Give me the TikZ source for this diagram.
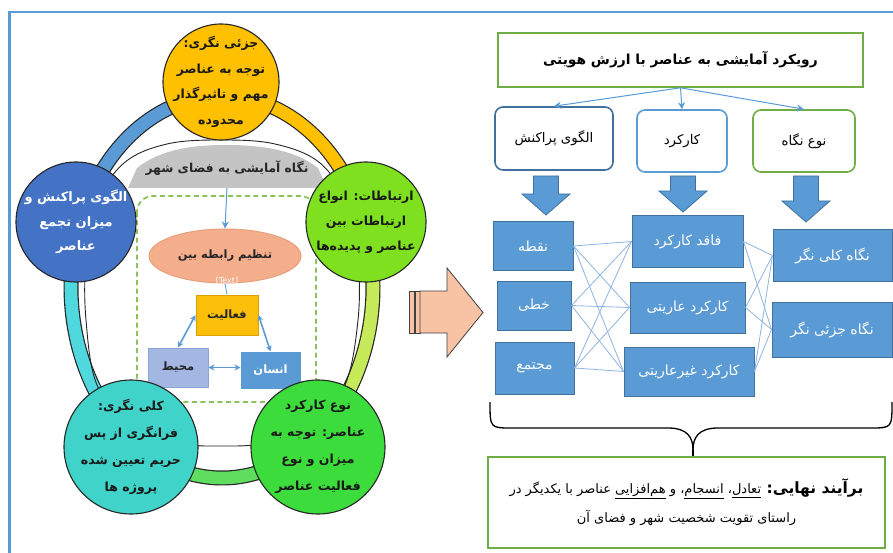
\documentclass[tikz,border=0pt]{standalone}
\usepackage{fontspec}
\setmainfont{DejaVu Sans}
\newfontfamily\fa[Script=Arabic]{DejaVu Sans}
\TeXXeTstate=1
\usetikzlibrary{arrows.meta,calc,shapes.geometric}
\newcommand\rl[1]{\beginR#1\endR}
\definecolor{frameblue}{HTML}{5B9BD5}
\definecolor{ringO}{HTML}{FFC000}
\definecolor{ringL}{HTML}{C6EA5A}
\definecolor{ringG}{HTML}{5EDD5E}
\definecolor{ringT}{HTML}{4FD8DE}
\definecolor{ringB}{HTML}{5B9BD5}
\definecolor{cTop}{HTML}{FFC000}
\definecolor{cLeft}{HTML}{4472C4}
\definecolor{cRight}{HTML}{7EE01E}
\definecolor{cBL}{HTML}{3FD3C9}
\definecolor{cBR}{HTML}{3CDC3C}
\definecolor{bannergray}{HTML}{C4C4C4}
\definecolor{peach}{HTML}{F8C3A4}
\definecolor{peachD}{HTML}{E9A07A}
\definecolor{salmon}{HTML}{F4AE8C}
\definecolor{gold}{HTML}{FBBF0A}
\definecolor{goldD}{HTML}{D9A200}
\definecolor{lav}{HTML}{A4B6E2}
\definecolor{lavD}{HTML}{8EA3D6}
\definecolor{dgreen}{HTML}{8DC15A}
\definecolor{tgreen}{HTML}{70AD47}
\definecolor{bfill}{HTML}{5B9BD5}
\definecolor{bdark}{HTML}{41719C}
\definecolor{lineblue}{HTML}{8DB4E2}
\tikzset{
  circ/.style={circle, draw=black!85, line width=1.1pt, minimum size=#1, inner sep=0pt},
  ctext/.style={align=center, inner sep=0pt, font=\fa\bfseries\fontsize{12.5}{25.5}\selectfont},
  wbox/.style={draw=#1, line width=1.6pt, rounded corners=8pt, fill=white, align=center,
    font=\fa\fontsize{13.3}{15}\selectfont, inner sep=0pt},
  bbox/.style={draw=bdark, line width=1pt, fill=bfill, text=white, align=center,
    font=\fa\fontsize{14}{16}\selectfont, inner sep=0pt},
  thinline/.style={lineblue, line width=0.8pt},
  fanarrow/.style={frameblue, line width=1pt, -{Stealth[length=7pt,width=7pt]}},
  darrow/.style={frameblue, line width=1.6pt, {Stealth[length=6pt,width=6pt]}-{Stealth[length=6pt,width=6pt]}},
  innerbox/.style={line width=1pt, inner sep=0pt, font=\fa\bfseries\fontsize{11.5}{13}\selectfont},
}
\newcommand\mybarrow[3]{%
  \filldraw[fill=bfill, draw=bdark, line width=0.8pt]
    (#1-12.5,#2) -- (#1+12.5,#2) -- (#1+12.5,#3-21) -- (#1+24,#3-21) -- (#1,#3)
    -- (#1-24,#3-21) -- (#1-12.5,#3-21) -- cycle;}
\begin{document}
\begin{tikzpicture}[x=1pt,y=-1pt]
\useasboundingbox (0,0) rectangle (893,553);
\fill[white] (0,0) rectangle (893,553);
% frame
\draw[frameblue, line width=2.5pt] (9.5,553) -- (9.5,12) -- (893,12);

% ---------- ring ----------
\coordinate (rc) at (222,287);
\foreach \a/\b/\c in {270/342.5/ringO, 342.5/410.5/ringL, 50.5/127/ringG, 127/194.8/ringT, 194.8/270/ringB}{
  \draw[black!85, line width=15pt] (rc) ++(\a:151 and 191) arc[start angle=\a, end angle=\b, x radius=151, y radius=191];
  \draw[\c, line width=12.6pt] (rc) ++(\a:151 and 191) arc[start angle=\a, end angle=\b, x radius=151, y radius=191];
}
\draw[black!85, line width=0.9pt] plot[smooth cycle, tension=0.6] coordinates {
  (221,140) (275,144) (320,163) (348,205) (358,260) (358,320) (345,385) (312,425) (265,443)
  (221,446) (177,443) (130,425) (97,385) (86,320) (86,260) (96,205) (124,163) (167,144)};

% banner
\fill[bannergray] (128,188) -- (137,168) .. controls (160,150) and (190,145) .. (226,145)
  .. controls (262,145) and (295,150) .. (318,168) -- (327,188) -- cycle;
\node[font=\fa\bfseries\fontsize{12.3}{15}\selectfont, text=black!85] (banner) at (227,168) {\rl{نگاه آمایشی به فضای شهر}};
\coordinate (bannerbot) at (227,188);

% dashed frame
\draw[dgreen, line width=1.8pt, dash pattern=on 5pt off 3.5pt, rounded corners=16pt] (137,196) rectangle (316,402);

% inner diagram
\node[ellipse, draw=peachD, fill=salmon, line width=1pt, minimum width=152pt, minimum height=54pt,
  font=\fa\bfseries\fontsize{11.5}{13}\selectfont, text=black!85] (ell) at (225,256) {\rl{تنظیم رابطه بین}};
\draw[fanarrow] (bannerbot) -- (ell.north);
\node[innerbox, draw=goldD, fill=gold, minimum width=62pt, minimum height=40pt, text=black!85] (act) at (227,315) {\rl{فعالیت}};
\draw[frameblue, line width=0.8pt] (ell.south) -- (act.north);
\node[font=\fontsize{8}{9}\selectfont, text=white] (ph) at (227,281) {[Text]};
\node[innerbox, draw=lavD, fill=lav, minimum width=60pt, minimum height=39pt, text=black!85] (env) at (178,367.5) {\rl{محیط}};
\node[innerbox, draw=bfill, fill=bfill, minimum width=59pt, minimum height=36pt, text=white] (hum) at (270.5,370) {\rl{انسان}};
\draw[darrow] (act.west) -- (env.north);
\draw[darrow] (act.east) -- (hum.north);
\draw[darrow] (env.east) -- (env.east -| hum.west);

% circles
\node[circ=116pt, fill=cTop] (ctop) at (221,82) {};
\node[ctext, text=black!90] (ttop) at (ctop) {\rl{جزئی نگری:}\\\rl{توجه به عناصر}\\\rl{مهم و تاثیرگذار}\\\rl{محدوده}};
\node[circ=120pt, fill=cLeft] (cleft) at (76,222) {};
\node[ctext, text=white, font=\fa\bfseries\fontsize{13}{24.5}\selectfont] (tleft) at (cleft)
  {\rl{الگوی پراکنش و}\\\rl{میزان تجمع}\\\rl{عناصر}};
\node[circ=120pt, fill=cRight] (cright) at (366,222) {};
\node[ctext, text=black!90, font=\fa\bfseries\fontsize{12.5}{25}\selectfont] (tright) at (cright)
  {\rl{ارتباطات: انواع}\\\rl{ارتباطات بین}\\\rl{عناصر و پدیده‌ها}};
\node[circ=134pt, fill=cBL] (cbl) at (131,447) {};
\node[ctext, text=black!90, font=\fa\bfseries\fontsize{12.5}{27}\selectfont] (tbl) at (cbl)
  {\rl{کلی نگری:}\\\rl{فرانگری از پس}\\\rl{حریم تعیین شده}\\\rl{پروژه ها}};
\node[circ=134pt, fill=cBR] (cbr) at (318,447) {};
\node[ctext, text=black!90, font=\fa\bfseries\fontsize{12.5}{27}\selectfont] (tbr) at (cbr)
  {\rl{نوع کارکرد}\\\rl{عناصر: توجه به}\\\rl{میزان و نوع}\\\rl{فعالیت عناصر}};

% big arrow
\filldraw[fill=peach, draw=black!75, line width=0.8pt] (409,291) rectangle (414,333);
\filldraw[fill=peach, draw=black!75, line width=0.8pt] (415,291) rectangle (420,333);
\filldraw[fill=peach, draw=black!75, line width=0.8pt] (420,291) -- (447,291) -- (447,268) -- (483,312.5)
  -- (447,357) -- (447,333) -- (420,333) -- cycle;

% ---------- right panel ----------
\node[draw=tgreen, line width=1.6pt, minimum width=365pt, minimum height=54pt, inner sep=0pt,
  font=\fa\bfseries\fontsize{13.8}{15}\selectfont] (title) at (680.5,60) {\rl{رویکرد آمایشی به عناصر با ارزش هویتی}};
\node[wbox=bdark, minimum width=118pt, minimum height=63pt] (b1) at (554,138.5) {\rl{الگوی پراکنش}};
\node[wbox=frameblue, minimum width=90pt, minimum height=62pt] (b2) at (682,141) {\rl{کارکرد}};
\node[wbox=tgreen, minimum width=102pt, minimum height=62pt] (b3) at (804,141) {\rl{نوع نگاه}};
\draw[fanarrow] (title.south) -- (b1.north);
\draw[fanarrow] (title.south) -- (b2.north);
\draw[fanarrow] (title.south) -- (b3.north);

\mybarrow{546}{176}{215}
\mybarrow{683}{176}{212}
\mybarrow{806}{176}{222}

\node[bbox, minimum width=80pt, minimum height=48pt] (n1) at (533,246) {\rl{نقطه}};
\node[bbox, minimum width=74pt, minimum height=49pt] (n2) at (534,305.5) {\rl{خطی}};
\node[bbox, minimum width=79pt, minimum height=52pt] (n3) at (534.5,368) {\rl{مجتمع}};
\node[bbox, minimum width=111pt, minimum height=51pt] (f1) at (687.5,241.5) {\rl{فاقد کارکرد}};
\node[bbox, minimum width=115pt, minimum height=51pt] (f2) at (687.5,307.5) {\rl{کارکرد عاریتی}};
\node[bbox, minimum width=130pt, minimum height=49pt] (f3) at (689,371.5) {\rl{کارکرد غیرعاریتی}};
\node[bbox, minimum width=119pt, minimum height=51pt] (v1) at (832.5,255.5) {\rl{نگاه کلی نگر}};
\node[bbox, minimum width=120pt, minimum height=55pt] (v2) at (832,329.5) {\rl{نگاه جزئی نگر}};

\foreach \s in {n1,n2,n3}{\foreach \t in {f1,f2,f3}{\draw[thinline] (\s.east) -- (\t.west);}}
\foreach \s in {f1,f2,f3}{\foreach \t in {v1,v2}{\draw[thinline] (\s.east) -- (\t.west);}}

% brace
\coordinate (brL) at (490,402);
\coordinate (brR) at (892,402);
\coordinate (brTip) at (693,450);
\node[draw=tgreen, line width=1.6pt, minimum width=397pt, minimum height=91pt, inner sep=0pt, align=center,
  font=\fa\fontsize{13}{29}\selectfont] (final) at (686.5,502.5)
  {\rl{{\bfseries\fontsize{15.5}{29}\selectfont برآیند نهایی:} \underline{تعادل}، \underline{انسجام}، و \underline{هم‌افزایی} عناصر با یکدیگر در}\\
   \rl{راستای تقویت شخصیت شهر و فضای آن}};
\draw[black, line width=1.3pt] (brL) .. controls (490,428) .. (512,428) -- (668,428)
  .. controls (688,428) and (693,438) .. (brTip);
\draw[black, line width=1.3pt] (brR) .. controls (892,428) .. (870,428) -- (718,428)
  .. controls (698,428) and (693,438) .. (brTip);
\draw[black, line width=1.3pt] (brTip) -- (brTip |- final.north);
\end{tikzpicture}
\end{document}
